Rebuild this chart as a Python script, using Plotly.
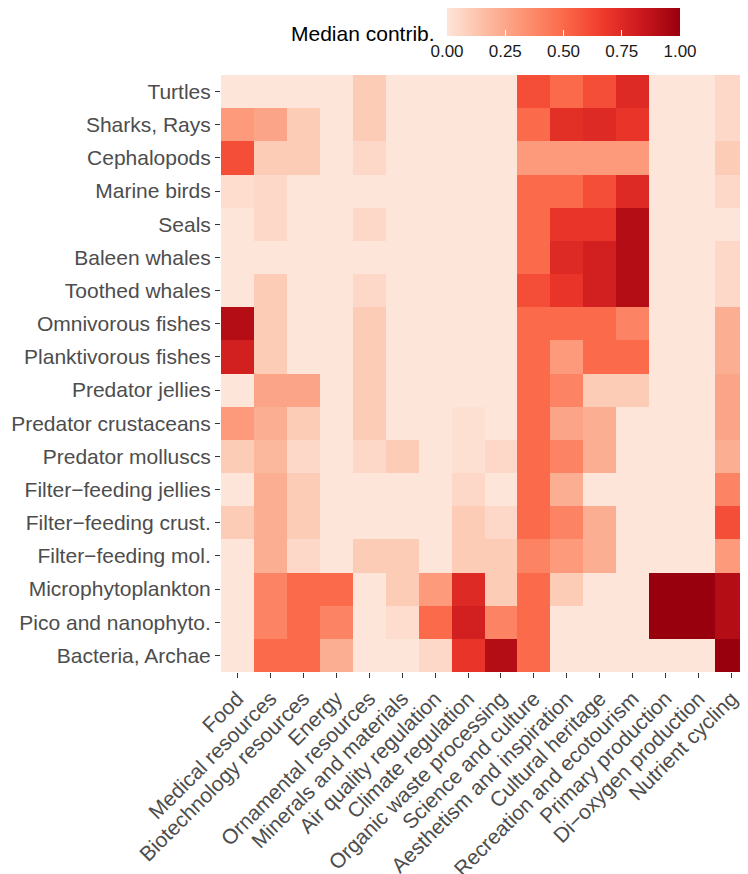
import plotly.graph_objects as go

services = ["Food", "Medical resources", "Biotechnology resources", "Energy",
            "Ornamental resources", "Minerals and materials", "Air quality regulation",
            "Climate regulation", "Organic waste processing", "Science and culture",
            "Aesthetism and inspiration", "Cultural heritage", "Recreation and ecotourism",
            "Primary production", "Di\u2212oxygen production", "Nutrient cycling"]

groups = ["Turtles", "Sharks, Rays", "Cephalopods", "Marine birds", "Seals",
          "Baleen whales", "Toothed whales", "Omnivorous fishes", "Planktivorous fishes",
          "Predator jellies", "Predator crustaceans", "Predator molluscs",
          "Filter\u2212feeding jellies", "Filter\u2212feeding crust.", "Filter\u2212feeding mol.",
          "Microphytoplankton", "Pico and nanophyto.", "Bacteria, Archae"]

turtles        = [0, 0, 0, 0, 0.10, 0, 0, 0, 0, 0.60, 0.50, 0.60, 0.75, 0, 0, 0.05]
sharks_rays    = [0.30, 0.26, 0.10, 0, 0.10, 0, 0, 0, 0, 0.50, 0.72, 0.75, 0.70, 0, 0, 0.05]
cephalopods    = [0.60, 0.10, 0.10, 0, 0.05, 0, 0, 0, 0, 0.30, 0.30, 0.30, 0.30, 0, 0, 0.10]
marine_birds   = [0.03, 0.05, 0, 0, 0, 0, 0, 0, 0, 0.50, 0.50, 0.60, 0.75, 0, 0, 0.05]
seals          = [0, 0.05, 0, 0, 0.05, 0, 0, 0, 0, 0.50, 0.70, 0.70, 0.91, 0, 0, 0]
baleen_whales  = [0, 0, 0, 0, 0, 0, 0, 0, 0, 0.50, 0.75, 0.80, 0.91, 0, 0, 0.05]
toothed_whales = [0, 0.10, 0, 0, 0.05, 0, 0, 0, 0, 0.60, 0.70, 0.80, 0.91, 0, 0, 0.05]
omni_fishes    = [0.91, 0.10, 0, 0, 0.10, 0, 0, 0, 0, 0.50, 0.50, 0.50, 0.39, 0, 0, 0.22]
plank_fishes   = [0.80, 0.10, 0, 0, 0.10, 0, 0, 0, 0, 0.50, 0.30, 0.50, 0.50, 0, 0, 0.22]
pred_jellies   = [0, 0.26, 0.26, 0, 0.10, 0, 0, 0, 0, 0.50, 0.39, 0.10, 0.10, 0, 0, 0.26]
pred_crust     = [0.30, 0.22, 0.10, 0, 0.10, 0, 0, 0.02, 0, 0.50, 0.26, 0.22, 0, 0, 0, 0.26]
pred_moll      = [0.10, 0.18, 0.05, 0, 0.05, 0.10, 0, 0.02, 0.05, 0.50, 0.39, 0.22, 0, 0, 0, 0.22]
ff_jellies     = [0, 0.22, 0.10, 0, 0, 0, 0, 0.05, 0, 0.50, 0.22, 0, 0, 0, 0, 0.39]
ff_crust       = [0.10, 0.22, 0.10, 0, 0, 0, 0, 0.10, 0.05, 0.50, 0.39, 0.22, 0, 0, 0, 0.60]
ff_mol         = [0, 0.22, 0.05, 0, 0.10, 0.10, 0, 0.10, 0.10, 0.39, 0.30, 0.22, 0, 0, 0, 0.30]
microphyto     = [0, 0.39, 0.50, 0.50, 0, 0.10, 0.30, 0.75, 0.10, 0.50, 0.10, 0, 0, 1.0, 1.0, 0.91]
pico_nano      = [0, 0.39, 0.50, 0.39, 0, 0.03, 0.50, 0.80, 0.39, 0.50, 0, 0, 0, 1.0, 1.0, 0.91]
bacteria       = [0, 0.50, 0.50, 0.22, 0, 0, 0.05, 0.70, 0.91, 0.50, 0, 0, 0, 0, 0, 1.0]

z = [turtles, sharks_rays, cephalopods, marine_birds, seals, baleen_whales, toothed_whales,
     omni_fishes, plank_fishes, pred_jellies, pred_crust, pred_moll, ff_jellies, ff_crust,
     ff_mol, microphyto, pico_nano, bacteria]

cbar_ticks = [0, 0.25, 0.5, 0.75, 1.0]
cbar_labels = ["0.00", "0.25", "0.50", "0.75", "1.00"]

reds = ["#FEE5D9", "#FCBBA1", "#FC9272", "#FB6A4A", "#EF3B2C", "#CB181D", "#99000D"]
colorscale = [[i / 6, c] for i, c in enumerate(reds)]

# page body adds an 8px offset; positions below are given in window pixels
OFF = 8
W, H = 748 - OFF, 874 - OFF
L, T = 221 - OFF, 75 - OFF
R = 0
B = H - T - 597
pw, ph = W - L - R, H - T - B

def px_x(x):
    return (x - OFF - L) / pw

def px_y(y):
    return (H - B - (y - OFF)) / ph

font_fam = "Liberation Sans, Arial, sans-serif"

fig = go.Figure(go.Heatmap(
    z=z, x=services, y=groups,
    colorscale=colorscale, zmin=0, zmax=1,
    xgap=0, ygap=0,
    colorbar=dict(
        orientation="h",
        x=px_x(563.5), xanchor="center",
        y=px_y(6), yanchor="top",
        lenmode="pixels", len=233,
        thicknessmode="pixels", thickness=30,
        outlinewidth=0,
        xpad=0, ypad=0,
        tickvals=cbar_ticks, ticktext=cbar_labels,
        ticks="inside", ticklen=6, tickcolor="white", tickwidth=1,
        tickfont=dict(family=font_fam, size=17, color="#1a1a1a"),
    ),
    hovertemplate="%{y}<br>%{x}<br>%{z}<extra></extra>",
))

fig.add_annotation(
    text="Median contrib.", xref="paper", yref="paper",
    x=px_x(437), y=px_y(34), xanchor="right", yanchor="middle",
    showarrow=False, font=dict(family=font_fam, size=21, color="black"),
)

fig.update_layout(
    width=W, height=H,
    margin=dict(l=L, r=R, t=T, b=B, autoexpand=False),
    paper_bgcolor="white", plot_bgcolor="white",
    font=dict(family=font_fam),
    xaxis=dict(
        tickangle=-45, ticks="outside", ticklen=5, tickwidth=1.1, tickcolor="#333333",
        tickfont=dict(family=font_fam, size=21, color="#4d4d4d"),
        showgrid=False, zeroline=False, showline=False, automargin=False,
    ),
    yaxis=dict(
        autorange="reversed", ticks="outside", ticklen=5, tickwidth=1.1, tickcolor="#333333",
        tickfont=dict(family=font_fam, size=21, color="#4d4d4d"),
        showgrid=False, zeroline=False, showline=False, automargin=False,
    ),
)

fig.write_html("out.html")
